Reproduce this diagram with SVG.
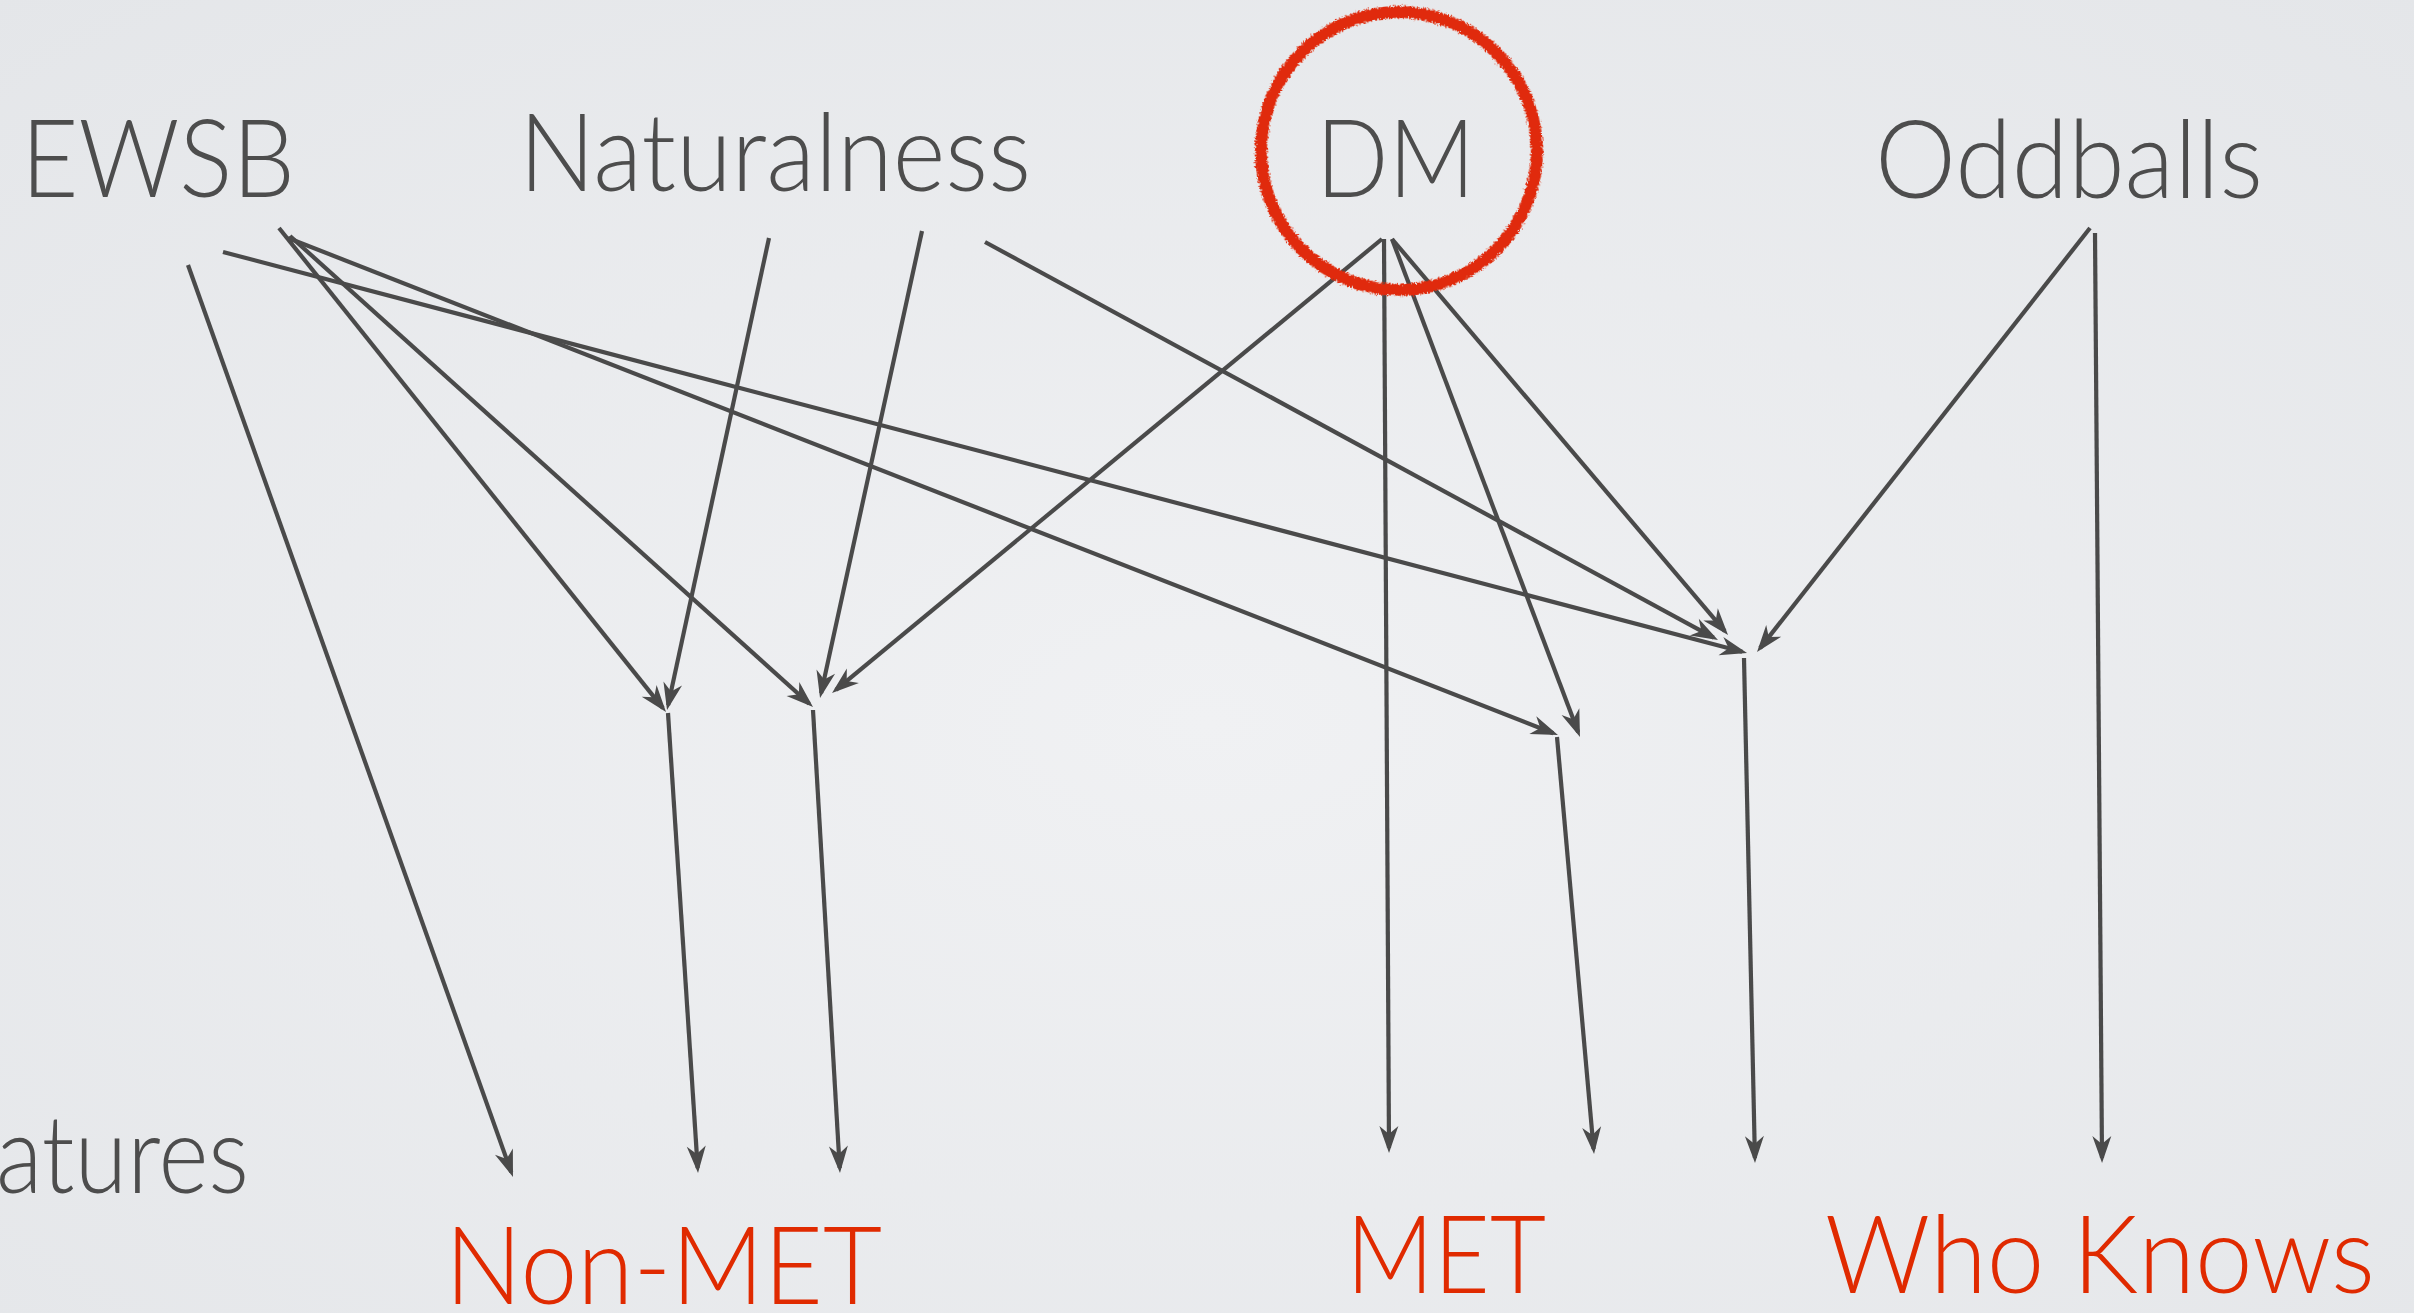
<svg xmlns="http://www.w3.org/2000/svg" width="2414" height="1313" viewBox="0 0 2414 1313">
<defs>
<radialGradient id="bg" cx="0.5" cy="0.55" r="0.75">
<stop offset="0" stop-color="#f0f1f3"/>
<stop offset="1" stop-color="#e4e6e9"/>
</radialGradient>
<marker id="ah" viewBox="-24 -11 30 22" markerWidth="30" markerHeight="22" refX="0" refY="0" orient="auto" markerUnits="userSpaceOnUse">
<path d="M5,0 L-22,-9.5 L-14,0 L-22,9.5 Z" fill="#4a4a4a"/>
</marker>
<filter id="rough" x="-10%" y="-10%" width="120%" height="120%">
<feTurbulence type="fractalNoise" baseFrequency="0.6" numOctaves="2" seed="3" result="n"/>
<feDisplacementMap in="SourceGraphic" in2="n" scale="6" xChannelSelector="R" yChannelSelector="G"/>
</filter>
</defs>
<style>
.t{font-family:"Lato","Open Sans","Liberation Sans",sans-serif;font-weight:300;font-size:108px;fill:#4d4d4d}
.r{font-family:"Lato","Open Sans","Liberation Sans",sans-serif;font-weight:300;font-size:108px;fill:#e02a00}
.c{fill:none;stroke:#4a4a4a;stroke-width:4.2;marker-end:url(#ah)}
</style>
<rect x="0" y="0" width="2414" height="1313" fill="url(#bg)"/>
<g id="connectors">
<path class="c" d="M188,265 L511.3,1172.3"/>
<path class="c" d="M279,228 L662.9,708.1"/>
<path class="c" d="M290,236 L809.3,703.7"/>
<path class="c" d="M288,238 L1553.3,733.2"/>
<path class="c" d="M223,252 L1742.2,651.7"/>
<path class="c" d="M769,238 L668.1,705.1"/>
<path class="c" d="M922,231 L821.1,693.1"/>
<path class="c" d="M985,242 L1713.6,637.6"/>
<path class="c" d="M1382,239 L835.9,689.8"/>
<path class="c" d="M1384,239 L1389,1148"/>
<path class="c" d="M1392,239 L1578.2,732.3"/>
<path class="c" d="M1392,239 L1724.8,631.2"/>
<path class="c" d="M2090,228 L1760.1,648.1"/>
<path class="c" d="M2095,233 L2102,1158"/>
<path class="c" d="M668,713 L697.7,1168"/>
<path class="c" d="M813,710 L839.7,1168"/>
<path class="c" d="M1557,737 L1593.6,1149"/>
<path class="c" d="M1744,658 L1754.9,1158"/>
</g>
<g id="node-ewsb"><text class="t" x="21" y="197" textLength="274" lengthAdjust="spacingAndGlyphs">EWSB</text></g>
<g id="node-naturalness"><text class="t" x="519" y="191" textLength="512" lengthAdjust="spacingAndGlyphs">Naturalness</text></g>
<g id="node-dm">
<text class="t" x="1316" y="197" textLength="159" lengthAdjust="spacingAndGlyphs">DM</text>
<ellipse cx="1399" cy="151" rx="138" ry="139" fill="none" stroke="#e02a0a" stroke-width="12" filter="url(#rough)" transform="rotate(-6 1399 151)"/>
</g>
<g id="node-oddballs"><text class="t" x="1875" y="198" textLength="388" lengthAdjust="spacingAndGlyphs">Oddballs</text></g>
<g id="node-atures"><text class="t" x="-4" y="1193" textLength="253" lengthAdjust="spacingAndGlyphs">atures</text></g>
<g id="node-nonmet"><text class="r" x="445" y="1304" textLength="437" lengthAdjust="spacingAndGlyphs">Non-MET</text></g>
<g id="node-met"><text class="r" x="1346" y="1293" textLength="200" lengthAdjust="spacingAndGlyphs">MET</text></g>
<g id="node-whoknows"><text class="r" x="1825" y="1293" textLength="550" lengthAdjust="spacingAndGlyphs">Who Knows</text></g>
</svg>
